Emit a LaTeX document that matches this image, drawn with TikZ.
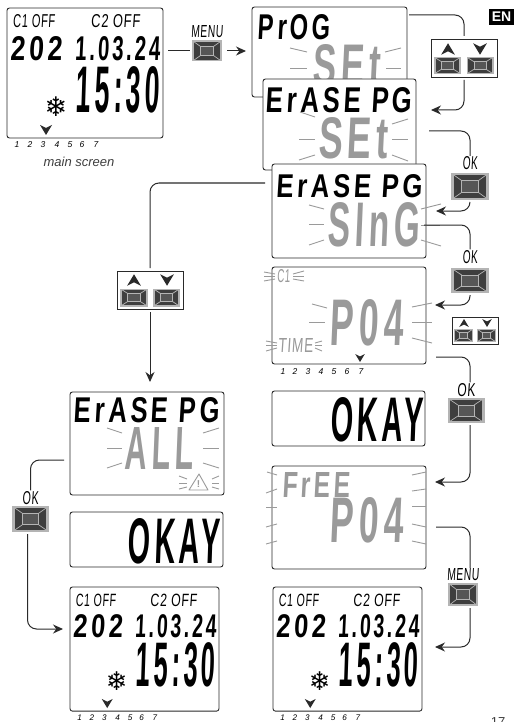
\documentclass[tikz,border=0pt]{standalone}
\usepackage{fontspec}
\usepackage{graphicx}
\setmainfont{Liberation Sans}
\newfontfamily\symfont{DejaVu Sans}
\usetikzlibrary{arrows.meta,calc}

\definecolor{lcdgray}{HTML}{9A9A9A}
\definecolor{keyrim}{HTML}{B4B4B4}
\definecolor{keydark}{HTML}{3E3E3E}
\definecolor{keymid}{HTML}{565656}
\definecolor{linedark}{HTML}{2A2A2A}

\def\ppbb{path picture bounding box}
% stretched display text: width, height, text
\newcommand{\lcd}[3]{\resizebox{#1pt}{#2pt}{\bfseries\addfontfeature{FakeSlant=0.08,LetterSpace=14}#3}}
\newcommand{\lcdthin}[3]{\resizebox{#1pt}{#2pt}{\addfontfeature{FakeSlant=0.1,LetterSpace=6}#3}}
% small filled marks: x, y, size
\newcommand{\tipdown}[3]{\fill [linedark,shift={(#1,#2)},scale=#3] (-6,-5) -- (0,-2) -- (6,-5) -- (0,5) -- cycle;}
\newcommand{\tipup}[3]{\fill [linedark,shift={(#1,#2)},scale=#3] (-6,5) -- (0,2) -- (6,5) -- (0,-5) -- cycle;}

\tikzset{
  lcdbox/.style={draw=linedark,fill=white,line width=0.9pt,rounded corners=2.5pt,anchor=north west,inner sep=0pt,outer sep=0pt},
  lcdtext/.style={inner sep=0pt,outer sep=0pt,text=black},
  lcdblink/.style={inner sep=0pt,outer sep=0pt,text=lcdgray},
  ray/.style={draw=lcdgray,line width=0.9pt},
  flow/.style={draw=linedark,line width=1pt,rounded corners=9pt},
  flowtip/.style={flow,-{Stealth[length=10pt,width=9pt]}},
  keylabel/.style={inner sep=0pt,outer sep=1pt,text=black},
  keybtn/.style={fill=keyrim,inner sep=0pt,outer sep=2pt,path picture={
    \fill [keydark] ($(\ppbb.south west)!.07!(\ppbb.north east)$) rectangle ($(\ppbb.south west)!.93!(\ppbb.north east)$);
    \fill [keymid] ($(\ppbb.south west)!.28!(\ppbb.north east)$) rectangle ($(\ppbb.south west)!.72!(\ppbb.north east)$);
    \draw [keyrim,line width=0.7pt] ($(\ppbb.south west)!.28!(\ppbb.north east)$) rectangle ($(\ppbb.south west)!.72!(\ppbb.north east)$);
    \draw [keyrim,line width=0.7pt] ($(\ppbb.south west)!.07!(\ppbb.north east)$) -- ($(\ppbb.south west)!.28!(\ppbb.north east)$);
    \draw [keyrim,line width=0.7pt] ($(\ppbb.south east)!.07!(\ppbb.north west)$) -- ($(\ppbb.south east)!.28!(\ppbb.north west)$);
    \draw [keyrim,line width=0.7pt] ($(\ppbb.north east)!.07!(\ppbb.south west)$) -- ($(\ppbb.north east)!.28!(\ppbb.south west)$);
    \draw [keyrim,line width=0.7pt] ($(\ppbb.north west)!.07!(\ppbb.south east)$) -- ($(\ppbb.north west)!.28!(\ppbb.south east)$);
  }},
  arrowbox/.style={draw=linedark,fill=white,line width=0.8pt,inner sep=0pt,outer sep=3pt}
}

% main screen: prefix, x, y, scale
\newcommand{\mainscr}[4]{
\begin{scope}[shift={(#2,#3)},scale=#4,every node/.append style={transform shape}]
  \node [lcdbox,minimum width=156pt,minimum height=130pt] (#1box) at (0,0) {};
  \node [lcdtext] (#1cone) at (27,13.5) {\lcdthin{42}{13}{C1 OFF}};
  \node [lcdtext] (#1ctwo) at (108.5,13.5) {\lcdthin{49}{13}{C2 OFF}};
  \node [lcdtext] (#1year) at (29,41) {\lcd{52}{24}{202}};
  \node [lcdtext] (#1date) at (110.5,41) {\lcd{85}{24}{1.03.24}};
  \node [lcdtext] (#1time) at (110.5,82) {\lcd{83}{46}{15:30}};
  \node [lcdtext,font=\symfont\fontsize{27}{27}\selectfont] (#1snow) at (49,99) {❄};
  \tipdown{39}{122}{#4}
  \foreach \d/\x in {1/10,2/23,3/36,4/50,5/63,6/75,7/89}
    \node [keylabel,font=\itshape\fontsize{8.5}{9}\selectfont] (#1day\d) at (\x,136.5) {\d};
\end{scope}
}

\begin{document}
\begin{tikzpicture}[x=1pt,y=-1pt]
\useasboundingbox (0,0) rectangle (515,722);

% top row
\mainscr{mainA}{7}{8}{1}
\node [font=\itshape\fontsize{13}{13}\selectfont,text=keydark,inner sep=0pt] (mainlabel) at (79,162) {main screen};

\node [keybtn,minimum width=30pt,minimum height=21pt] (menuA) at (207,51) {};
\node [keylabel] (menuAlabel) at (207,32) {\lcdthin{32}{12}{MENU}};
\draw [flow] (mainAbox.east |- menuA) ++(5,0) -- (menuA.west);
\draw [flowtip] (menuA.east) ++(3,0) coordinate (menuAout) -- (246,51) coordinate (menuAin);

% prog screen
\node [lcdbox,minimum width=155pt,minimum height=90pt] (prog) at (252,7) {};
\node [lcdtext] (progtext) at (294,27.5) {\lcd{72}{25}{PrOG}};
\node [lcdblink] (progset) at (346,65.5) {\lcd{68}{41}{SEt}};
\foreach \a/\b/\c/\d in {290/48/307/52,290/68/307/68,385/52/401/48,386/68/401/68}
  \draw [ray] (\a,\b) -- (\c,\d);

% erase set
\node [lcdbox,minimum width=153pt,minimum height=91pt] (eraseA) at (263,79) {};
\node [lcdtext] (eraseAtext) at (339,100.5) {\lcd{146}{25}{ErASE PG}};
\node [lcdblink] (eraseAset) at (353,138.5) {\lcd{70}{41}{SEt}};
\foreach \a/\b/\c/\d in {300/112/315/117,299/139/315/139,299/160/315/155,392/124/408/119,392/139/408/139,392/155/408/161}
  \draw [ray] (\a,\b) -- (\c,\d);

% erase single
\node [lcdbox,minimum width=154pt,minimum height=94pt] (eraseB) at (272,164) {};
\node [lcdtext] (eraseBtext) at (349,186.5) {\lcd{146}{23}{ErASE PG}};
\node [lcdblink] (eraseBsing) at (374,225) {\lcd{92}{44}{SInG}};
\foreach \a/\b/\c/\d in {309/205/324/209,309/224/324/224,309/245/324/240,421/209/441/204,421/225/440/225,421/240/441/246}
  \draw [ray] (\a,\b) -- (\c,\d);

% programme number
\node [lcdbox,minimum width=154pt,minimum height=97pt] (povA) at (272,267) {};
\node [lcdblink] (povAcone) at (283.5,276.5) {\lcdthin{13}{13}{C1}};
\node [lcdblink] (povAtime) at (295.5,345) {\lcdthin{35}{14}{TIME}};
\node [lcdblink] (povAnum) at (366.5,323) {\lcd{73}{46}{P04}};
\foreach \a/\b/\c/\d in {312/304/327/308,309/322/325/322,412/307/432/303,412/322/432/322,412/338/432/343,264/272/275/274,264/276/275/276,264/281/275/279,293/274/304/271,293/276/304/276,293/279/304/281,266/341/277/343,266/345/277/345,266/351/277/348,315/343/322/341,315/345/322/345,315/348/322/351}
  \draw [ray] (\a,\b) -- (\c,\d);
\tipdown{360}{358}{0.8}
\foreach \d/\x in {1/283,2/295,3/308,4/321,5/334,6/347,7/361}
  \node [keylabel,font=\itshape\fontsize{8.5}{9}\selectfont] (povday\d) at (\x,372) {\d};

% okay right
\node [lcdbox,minimum width=153pt,minimum height=55pt] (okayR) at (272,391) {};
\node [lcdtext] (okayRtext) at (376.5,420) {\lcd{93}{44}{OKAY}};

% free
\node [lcdbox,minimum width=154pt,minimum height=103pt] (free) at (272,466) {};
\node [lcdblink] (freetext) at (316,484.5) {\lcd{68}{25}{FrEE}};
\node [lcdblink] (freenum) at (366.5,520.5) {\lcd{73}{45}{P04}};
\foreach \a/\b/\c/\d in {267/472/277/475,266/493/277/489,266/507/277/507,266/527/277/524,266/544/277/541,412/475/426/472,412/491/426/489,412/506/426/506,412/524/426/527,412/541/426/544}
  \draw [ray] (\a,\b) -- (\c,\d);

\mainscr{mainB}{273}{587}{0.955}

% left column
\node [lcdbox,minimum width=154pt,minimum height=103pt] (eraseC) at (70,392) {};
\node [lcdtext] (eraseCtext) at (146.5,410.5) {\lcd{145}{25}{ErASE PG}};
\node [lcdblink] (eraseCall) at (159,448) {\lcd{68}{42}{ALL}};
\foreach \a/\b/\c/\d in {107/428/122/433,107/448/122/448,107/468/122/463,203/433/219/428,203/448/219/448,203/463/219/468,179/476/187/479,179/483/187/483,179/489/187/487,212/479/219/476,212/483/219/483,212/487/219/489}
  \draw [ray] (\a,\b) -- (\c,\d);
\draw [ray,line join=round] (189,490) -- (199,474) -- (208,490) -- cycle;
\node [lcdblink,font=\bfseries\fontsize{10}{10}\selectfont] (warnmark) at (198.5,484) {!};

\node [lcdbox,minimum width=153pt,minimum height=55pt] (okayL) at (70,512) {};
\node [lcdtext] (okayLtext) at (174,541) {\lcd{92}{45}{OKAY}};

\mainscr{mainC}{70}{587}{0.955}

% arrow key boxes
\node [arrowbox,minimum width=66pt,minimum height=38pt] (updownA) at (464,58) {};
\tipup{448}{49}{1.15}
\tipdown{480}{49}{1.15}
\node [keybtn,minimum width=27pt,minimum height=17pt] (upkeyA) at (447.5,65.5) {};
\node [keybtn,minimum width=27pt,minimum height=17pt] (downkeyA) at (480,65.5) {};

\node [arrowbox,minimum width=66pt,minimum height=38pt] (updownB) at (150,290) {};
\tipup{134}{280}{1.15}
\tipdown{167}{280}{1.15}
\node [keybtn,minimum width=28pt,minimum height=18pt] (upkeyB) at (134,297.5) {};
\node [keybtn,minimum width=27pt,minimum height=18pt] (downkeyB) at (166.5,297.5) {};

\node [arrowbox,minimum width=46pt,minimum height=27pt] (updownC) at (475,330.5) {};
\tipup{464}{323}{0.8}
\tipdown{487}{323}{0.8}
\node [keybtn,minimum width=19pt,minimum height=13pt] (upkeyC) at (463.5,335.5) {};
\node [keybtn,minimum width=19pt,minimum height=13pt] (downkeyC) at (486.5,335.5) {};

% keys with labels
\node [keybtn,minimum width=38pt,minimum height=27pt] (okA) at (470,186.5) {};
\node [keylabel] (okAlabel) at (470,163.5) {\lcdthin{15}{13}{OK}};
\node [keybtn,minimum width=38pt,minimum height=25pt] (okB) at (470,280.5) {};
\node [keylabel] (okBlabel) at (470,257) {\lcdthin{15}{13}{OK}};
\node [keybtn,minimum width=37pt,minimum height=25pt] (okC) at (466,410.5) {};
\node [keylabel] (okClabel) at (466,390) {\lcdthin{18}{13}{OK}};
\node [keybtn,minimum width=30pt,minimum height=23pt] (menuB) at (463,594.5) {};
\node [keylabel] (menuBlabel) at (463,575) {\lcdthin{32}{12}{MENU}};
\node [keybtn,minimum width=37pt,minimum height=26pt] (okD) at (30.5,519) {};
\node [keylabel] (okDlabel) at (30.5,498) {\lcdthin{16}{13}{OK}};

% free ends of the connectors
\coordinate (progout) at (409,15);
\coordinate (eraseAin) at (431,110);
\coordinate (eraseAout) at (429,131);
\coordinate (eraseBin) at (436,211);
\coordinate (eraseBout) at (424,225);
\coordinate (eraseBleft) at (265,183);
\coordinate (povin) at (435,305);
\coordinate (povout) at (436,357);
\coordinate (freein) at (435,482);
\coordinate (freeout) at (436,527);
\coordinate (mainBin) at (435,647);
\coordinate (eraseCin) at (150,382);
\coordinate (eraseCout) at (64,460);
\coordinate (mainCin) at (63,629);

% connectors
\draw [flow] (progout) -| (updownA.north);
\draw [flowtip] (updownA.south) |- (eraseAin);
\draw [flow] (eraseAout) -| (okAlabel.north);
\draw [flowtip] (okA.south) |- (eraseBin);
\draw [flow] (eraseBout) -| (okBlabel.north);
\draw [flowtip] (okB.south) |- (povin);
\draw [flow] (povout) -| ([xshift=4pt]okClabel.north);
\draw [flowtip] ([xshift=4pt]okC.south) |- (freein);
\draw [flow] (freeout) -| ([xshift=7pt]menuBlabel.north);
\draw [flowtip] ([xshift=7pt]menuB.south) |- (mainBin);
\draw [flow] (eraseBleft) -| (updownB.north);
\draw [flowtip] (updownB.south) -- (eraseCin);
\draw [flow] (eraseCout) -| (okDlabel.north);
\draw [flowtip] ([xshift=-3pt]okD.south) |- (mainCin);

% corner marks
\node [fill=black,text=white,font=\bfseries\fontsize{14}{14}\selectfont,minimum width=25pt,minimum height=16pt,inner sep=0pt] (langmark) at (501.5,17) {EN};
\node [font=\fontsize{13}{13}\selectfont,inner sep=0pt,text=keydark] (pagenum) at (498,722) {17};
\end{tikzpicture}
\end{document}
